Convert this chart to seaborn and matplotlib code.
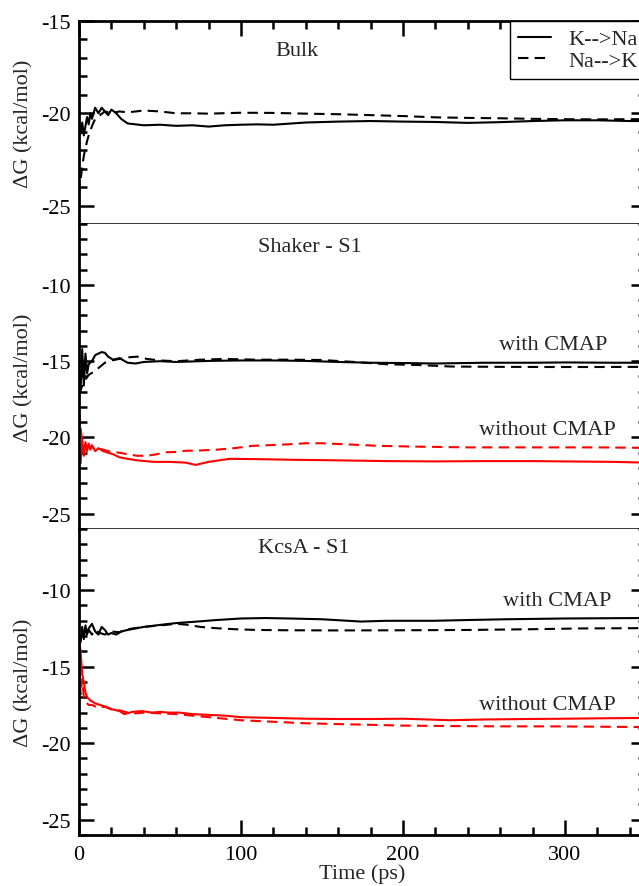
import matplotlib
matplotlib.use("Agg")
import matplotlib.pyplot as plt
import seaborn as sns
from matplotlib.ticker import MultipleLocator

# Bulk panel
bulk_kna_t = [0, 1, 2, 3, 4, 5, 6, 7, 8, 10, 12, 14, 16, 18, 20, 23, 26, 30, 35, 40, 50, 60, 70, 80, 90,
              100, 110, 120, 140, 160, 180, 200, 220, 240, 260, 280, 300, 320, 340, 350]
bulk_kna_v = [-20.4, -21.1, -20.5, -21.2, -20.7, -20.2, -20.6, -20.0, -20.3, -19.7, -20.0, -19.7, -19.9, -20.1,
              -19.8, -20.0, -20.3, -20.55, -20.6, -20.65, -20.62, -20.68, -20.65, -20.72, -20.65, -20.62, -20.6,
              -20.62, -20.5, -20.45, -20.42, -20.45, -20.47, -20.52, -20.48, -20.42, -20.38, -20.38, -20.42, -20.42]
bulk_nak_t = [0, 1, 2, 3, 4, 5, 6, 8, 10, 13, 16, 20, 25, 30, 40, 50, 60, 70, 80, 100, 120, 140, 160, 180,
              200, 220, 240, 260, 280, 300, 320, 340, 350]
bulk_nak_v = [-24.4, -23.6, -22.9, -22.3, -21.9, -21.5, -21.2, -20.7, -20.3, -20.1, -19.9, -20.0, -19.9, -19.95,
              -19.85, -19.9, -20.0, -20.0, -20.02, -19.97, -19.98, -20.02, -20.05, -20.1, -20.15, -20.22, -20.25,
              -20.27, -20.3, -20.32, -20.33, -20.32, -20.32]

# Shaker - S1, with CMAP
sh_cm_kna_t = [0, 1, 2, 3, 4, 5, 6, 8, 10, 12, 14, 16, 18, 21, 25, 30, 35, 40, 50, 60, 80, 100, 120, 140,
               160, 180, 200, 220, 250, 280, 300, 330, 350]
sh_cm_kna_v = [-15.5, -16.9, -14.2, -16.6, -14.5, -15.8, -15.2, -15.0, -14.6, -14.5, -14.4, -14.45, -14.7, -14.9,
               -14.8, -15.1, -15.15, -15.05, -15.0, -15.05, -14.98, -14.95, -14.95, -14.98, -15.05, -15.1, -15.12,
               -15.15, -15.1, -15.1, -15.08, -15.1, -15.1]
sh_cm_nak_t = [0, 2, 4, 6, 9, 12, 16, 20, 25, 30, 36, 42, 50, 60, 75, 90, 110, 130, 150, 170, 190, 210, 230,
               260, 290, 320, 350]
sh_cm_nak_v = [-17.2, -16.6, -16.2, -15.9, -15.7, -15.45, -15.1, -14.95, -14.85, -14.75, -14.7, -14.85, -14.95,
               -15.0, -14.9, -14.85, -14.9, -14.9, -14.92, -15.05, -15.2, -15.25, -15.35, -15.37, -15.38, -15.38,
               -15.37]
# Shaker - S1, without CMAP
sh_nc_kna_t = [0, 1, 2, 3, 4, 5, 6, 7, 8, 10, 12, 15, 18, 21, 25, 30, 36, 46, 56, 66, 72, 80, 93, 110, 130,
               160, 190, 220, 250, 280, 300, 330, 350]
sh_nc_kna_v = [-20.6, -21.7, -20.1, -21.2, -20.3, -20.9, -20.4, -20.8, -20.5, -20.9, -20.7, -20.9, -21.0, -21.1,
               -21.3, -21.4, -21.5, -21.6, -21.6, -21.65, -21.8, -21.6, -21.4, -21.42, -21.46, -21.5, -21.55,
               -21.57, -21.55, -21.55, -21.57, -21.6, -21.65]
sh_nc_nak_t = [0, 1, 2, 4, 6, 10, 15, 20, 25, 30, 36, 42, 48, 54, 60, 66, 75, 85, 96, 107, 118, 129, 140, 150,
               165, 185, 208, 240, 280, 320, 350]
sh_nc_nak_v = [-18.3, -19.4, -20.2, -20.5, -20.6, -20.7, -20.8, -20.95, -21.0, -21.1, -21.2, -21.2, -21.1, -20.97,
               -20.95, -20.87, -20.85, -20.8, -20.7, -20.55, -20.5, -20.45, -20.38, -20.38, -20.45, -20.55, -20.6,
               -20.65, -20.65, -20.65, -20.68]

# KcsA - S1, with CMAP
kc_cm_kna_t = [0, 1, 2, 3, 4, 5, 6, 8, 10, 12, 14, 16, 18, 20, 23, 26, 30, 35, 40, 50, 60, 73, 85, 100, 115,
               130, 150, 174, 190, 219, 240, 264, 300, 330, 350]
kc_cm_kna_v = [-13.0, -13.4, -12.4, -13.2, -12.3, -12.9, -12.5, -12.2, -12.7, -12.9, -12.4, -12.6, -12.9, -12.8,
               -12.9, -12.7, -12.6, -12.5, -12.4, -12.27, -12.15, -12.05, -11.95, -11.85, -11.82, -11.85, -11.9,
               -12.05, -12.0, -12.0, -11.95, -11.9, -11.85, -11.83, -11.82]
kc_cm_nak_t = [0, 2, 4, 6, 8, 10, 13, 16, 20, 25, 30, 40, 50, 60, 66, 75, 84, 96, 110, 130, 160, 200, 240,
               280, 310, 350]
kc_cm_nak_v = [-13.3, -12.8, -13.0, -12.6, -12.9, -12.6, -12.8, -12.9, -12.7, -12.75, -12.55, -12.4, -12.3,
               -12.2, -12.25, -12.4, -12.48, -12.55, -12.6, -12.62, -12.63, -12.62, -12.6, -12.55, -12.5, -12.48]
# KcsA - S1, without CMAP
kc_nc_kna_t = [0, 1, 2, 3, 4, 5, 7, 10, 13, 17, 21, 25, 28, 33, 39, 45, 50, 55, 62, 70, 80, 90, 100, 120, 140,
               160, 180, 200, 215, 229, 250, 275, 300, 325, 350]
kc_nc_kna_v = [-13.2, -14.0, -15.5, -16.0, -16.7, -17.0, -17.2, -17.4, -17.5, -17.65, -17.8, -17.9, -18.1, -17.95,
               -17.9, -18.0, -17.95, -18.0, -18.0, -18.1, -18.15, -18.2, -18.3, -18.35, -18.4, -18.42, -18.42,
               -18.4, -18.45, -18.5, -18.45, -18.42, -18.4, -18.37, -18.35]
kc_nc_nak_t = [0, 1, 2, 3, 4, 6, 8, 12, 16, 20, 25, 30, 35, 40, 50, 60, 70, 80, 90, 100, 120, 140, 160, 180,
               200, 230, 260, 290, 320, 350]
kc_nc_nak_v = [-14.0, -16.8, -15.8, -17.0, -17.3, -17.5, -17.5, -17.7, -17.6, -17.8, -17.85, -18.0, -18.05, -18.0,
               -18.05, -18.1, -18.2, -18.3, -18.4, -18.5, -18.6, -18.7, -18.75, -18.8, -18.85, -18.88, -18.9,
               -18.9, -18.92, -18.95]

sns.set_theme(style="ticks")
plt.rcParams['font.family'] = ['Liberation Serif', 'DejaVu Serif']
plt.rcParams['axes.unicode_minus'] = False
plt.rcParams['font.size'] = 16

fig = plt.figure(figsize=(6.39, 8.87), dpi=100)
left, width = 0.1236, 0.8873
ax1 = fig.add_axes([left, 0.7463, width, 0.2289])
ax2 = fig.add_axes([left, 0.4025, width, 0.3439], sharex=ax1)
ax3 = fig.add_axes([left, 0.0575, width, 0.3450], sharex=ax1)


def draw(ax, t, v, color, dashed=False, label=None):
    sns.lineplot(x=t, y=v, ax=ax, color=color, lw=1.5, label=label, estimator=None, sort=False)
    if dashed:
        ax.lines[-1].set_dashes((5, 3))


draw(ax1, bulk_kna_t, bulk_kna_v, 'black', label='K-->Na')
draw(ax1, bulk_nak_t, bulk_nak_v, 'black', dashed=True, label='Na-->K')

draw(ax2, sh_cm_kna_t, sh_cm_kna_v, 'black')
draw(ax2, sh_cm_nak_t, sh_cm_nak_v, 'black', dashed=True)
draw(ax2, sh_nc_kna_t, sh_nc_kna_v, 'red')
draw(ax2, sh_nc_nak_t, sh_nc_nak_v, 'red', dashed=True)

draw(ax3, kc_cm_kna_t, kc_cm_kna_v, 'black')
draw(ax3, kc_cm_nak_t, kc_cm_nak_v, 'black', dashed=True)
draw(ax3, kc_nc_kna_t, kc_nc_kna_v, 'red')
draw(ax3, kc_nc_nak_t, kc_nc_nak_v, 'red', dashed=True)

ax1.set_ylim(-26, -15)
ax2.set_ylim(-26, -6)
ax3.set_ylim(-26, -6)
ax3.set_xlim(0, 350)

for ax in (ax1, ax2, ax3):
    ax.yaxis.set_major_locator(MultipleLocator(5))
    ax.yaxis.set_minor_locator(MultipleLocator(1))
    ax.xaxis.set_major_locator(MultipleLocator(100))
    ax.xaxis.set_minor_locator(MultipleLocator(20))
    ax.tick_params(which='both', direction='in', width=1.8, colors='black', labelsize=16,
                   left=True, right=True, top=False, bottom=False, labelbottom=False, pad=6)
    ax.tick_params(which='major', length=11)
    ax.tick_params(which='minor', length=6)
    for s in ('left', 'right'):
        ax.spines[s].set_linewidth(2.0)
        ax.spines[s].set_color('black')
    ax.set_ylabel('ΔG (kcal/mol)', fontsize=16)
    ax.yaxis.set_label_coords(-0.08, 0.5)
    ax.set_xlabel('')

ax1.tick_params(which='both', top=True)
ax1.spines['top'].set_linewidth(2.0)
ax1.spines['bottom'].set_linewidth(1.1)
ax2.spines['top'].set_visible(False)
ax2.spines['bottom'].set_linewidth(1.1)
ax3.spines['top'].set_visible(False)
ax3.spines['bottom'].set_linewidth(2.0)
for ax in (ax1, ax2, ax3):
    ax.spines['bottom'].set_color('black')
    ax.spines['top'].set_color('black')
ax3.tick_params(which='both', bottom=True, labelbottom=True)
ax3.tick_params(axis='x', which='major', pad=7)
ax3.set_xlabel('Time (ps)', fontsize=16, labelpad=0)
ax3.xaxis.set_label_coords(0.5, -0.093)

ax1.text(121, -16.6, 'Bulk', fontsize=16, ha='left', va='center')
ax2.text(110.5, -7.5, 'Shaker - S1', fontsize=16, ha='left', va='center')
ax2.text(259, -13.9, 'with CMAP', fontsize=16, ha='left', va='center')
ax2.text(247, -19.45, 'without CMAP', fontsize=16, ha='left', va='center')
ax3.text(110.5, -7.2, 'KcsA - S1', fontsize=16, ha='left', va='center')
ax3.text(262, -10.65, 'with CMAP', fontsize=16, ha='left', va='center')
ax3.text(247, -17.45, 'without CMAP', fontsize=16, ha='left', va='center')

leg = ax1.legend(loc='upper right', borderaxespad=0, fancybox=False, framealpha=1,
                 edgecolor='black', fontsize=16, handlelength=1.5, handletextpad=0.8,
                 borderpad=0.35, labelspacing=0.05)
leg.get_frame().set_linewidth(1.0)

fig.savefig('out.png', dpi=100)
